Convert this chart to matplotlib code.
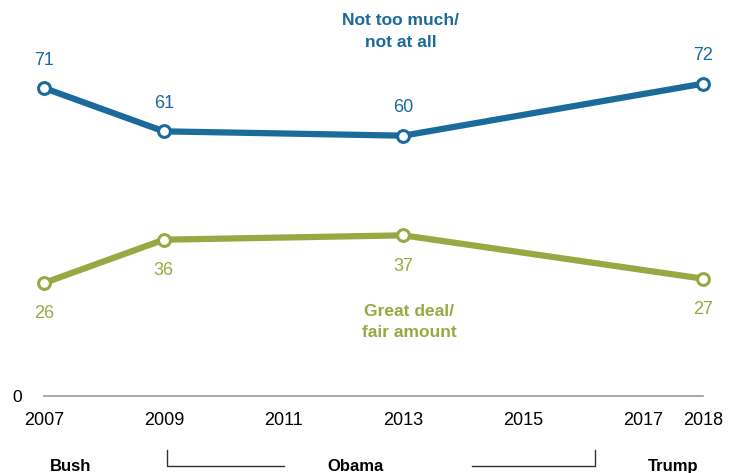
import numpy as np
import matplotlib.pyplot as plt

years = [2007, 2009, 2013, 2018]
not_much = [71, 61, 60, 72]
great_deal = [26, 36, 37, 27]
tick_years = [2007, 2009, 2011, 2013, 2015, 2017, 2018]

blue = "#1b6a9c"
green = "#9aa843"

plt.rcParams['font.family'] = ['Liberation Sans', 'DejaVu Sans']

fig = plt.figure(figsize=(7.32, 4.73), dpi=100)
ax = fig.add_axes([44/732, 1 - 395.7/473, 659/732, 346.7/473])
ax.set_xlim(2007, 2018)
ax.set_ylim(0, 80)

ax.plot(years, not_much, color=blue, lw=4.5, marker="o", ms=8.5, mfc="white",
        mec=blue, mew=2.2, clip_on=False, zorder=3)
ax.plot(years, great_deal, color=green, lw=4.5, marker="o", ms=8.5, mfc="white",
        mec=green, mew=2.2, clip_on=False, zorder=3)

for x, v in zip(years, not_much):
    ax.annotate(str(v), (x, v), xytext=(0, 14), textcoords="offset points",
                ha="center", va="bottom", color=blue, fontsize=13)
for x, v in zip(years, great_deal):
    ax.annotate(str(v), (x, v), xytext=(0, -16), textcoords="offset points",
                ha="center", va="top", color=green, fontsize=13)

ax.text(2012.95, 84.0, "Not too much/\nnot at all", ha="center", va="center",
        color=blue, fontsize=12.5, fontweight="bold", linespacing=1.55)
ax.text(2013.1, 17.0, "Great deal/\nfair amount", ha="center", va="center",
        color=green, fontsize=12.5, fontweight="bold", linespacing=1.55)

for s in ["top", "right", "left"]:
    ax.spines[s].set_visible(False)
ax.spines["bottom"].set_color("#999999")
ax.spines["bottom"].set_linewidth(1.2)
ax.set_yticks([0])
ax.set_yticklabels(["0"], fontsize=12.5)
ax.tick_params(axis="y", length=0, pad=16)
ax.set_xticks(tick_years)
ax.set_xticklabels([str(t) for t in tick_years], fontsize=13)
ax.tick_params(axis="x", length=0, pad=12)

# presidency labels
ax.text(2007.45, -16.3, "Bush", ha="center", va="center", fontsize=12, fontweight="bold")
ax.text(2012.2, -16.3, "Obama", ha="center", va="center", fontsize=12, fontweight="bold")
ax.text(2017.5, -16.3, "Trump", ha="center", va="center", fontsize=12, fontweight="bold")
ax.plot([2009.05, 2009.05, 2011.0], [-12.6, -16.3, -16.3], color="#333333", lw=1, clip_on=False)
ax.plot([2014.15, 2016.2, 2016.2], [-16.3, -16.3, -12.6], color="#333333", lw=1, clip_on=False)

fig.savefig("out.png", dpi=100)
